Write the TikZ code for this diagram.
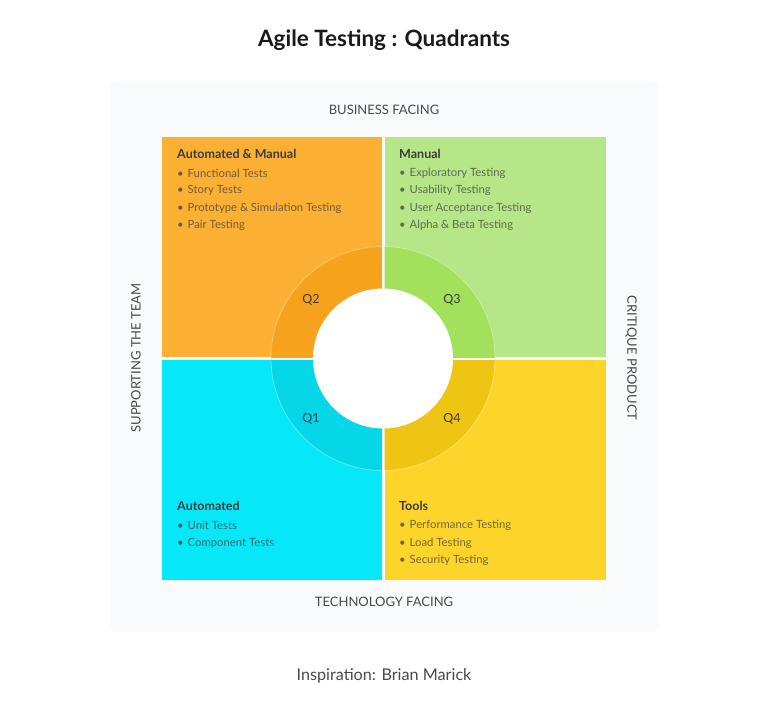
\documentclass[tikz,border=0pt]{standalone}
\usepackage{fontspec}
\setmainfont{Lato}
\definecolor{qorange}{HTML}{FBB034}
\definecolor{rorange}{HTML}{F6A21C}
\definecolor{qgreen}{HTML}{B6E688}
\definecolor{rgreen}{HTML}{A3E05C}
\definecolor{qcyan}{HTML}{06E8F8}
\definecolor{rcyan}{HTML}{05D6E8}
\definecolor{qyellow}{HTML}{FDD52A}
\definecolor{ryellow}{HTML}{EFC514}
\definecolor{panel}{HTML}{F9FAFC}
\definecolor{headc}{HTML}{3C3C3C}
\definecolor{axisc}{HTML}{4A4A4A}
\tikzset{
  qhead/.style={anchor=west, font=\bfseries\fontsize{12.5}{14}\selectfont, text=headc, inner sep=0pt},
  qitem/.style={anchor=west, font=\fontsize{11.3}{13}\selectfont, text=headc, text opacity=0.72, inner sep=0pt},
  qlabel/.style={font=\fontsize{12.5}{14}\selectfont, text=headc, inner sep=0pt},
  axislabel/.style={font=\fontsize{13}{15}\selectfont, text=axisc, inner sep=0pt},
}
\newcommand{\bitem}{\textbullet\hspace{4pt}}
\begin{document}
\begin{tikzpicture}[x=1pt,y=-1pt]
\useasboundingbox (0,0) rectangle (768,713);
\fill[white] (0,0) rectangle (768,713);
\fill[panel, rounded corners=6pt] (110,82) rectangle (658,632);
% quadrants
\fill[qorange] (162,137) rectangle (381.5,357);
\fill[qgreen] (384.5,137) rectangle (606,357);
\fill[qcyan] (162,360) rectangle (381.5,580);
\fill[qyellow] (384.5,360) rectangle (606,580);
% ring segments
\begin{scope}\clip (162,137) rectangle (381.5,357); \fill[rorange] (383,358.5) circle[radius=112]; \end{scope}
\begin{scope}\clip (384.5,137) rectangle (606,357); \fill[rgreen] (383,358.5) circle[radius=112]; \end{scope}
\begin{scope}\clip (162,360) rectangle (381.5,580); \fill[rcyan] (383,358.5) circle[radius=112]; \end{scope}
\begin{scope}\clip (384.5,360) rectangle (606,580); \fill[ryellow] (383,358.5) circle[radius=112]; \end{scope}
\draw[white, opacity=0.35, line width=0.8pt] (383,358.5) circle[radius=112];
\fill[white] (383,358.5) circle[radius=70];
% title
\node[font=\bfseries\fontsize{22.5}{26}\selectfont, text=black!90] (title) at (384,40) {Agile Testing : Quadrants};
% axis labels
\node[axislabel] (business) at (384,110) {BUSINESS FACING};
\node[axislabel] (technology) at (384,602) {TECHNOLOGY FACING};
\node[axislabel, rotate=90] (supporting) at (136,358) {SUPPORTING THE TEAM};
\node[axislabel, rotate=-90] (critique) at (631,358) {CRITIQUE PRODUCT};
% Q2
\node[qhead] (h2) at (177,153.5) {Automated \& Manual};
\node[qitem] (i21) at (177,173) {\bitem Functional Tests};
\node[qitem] (i22) at (177,190.5) {\bitem Story Tests};
\node[qitem] (i23) at (177,208) {\bitem Prototype \& Simulation Testing};
\node[qitem] (i24) at (177,225.5) {\bitem Pair Testing};
% Q3
\node[qhead] (h3) at (399,153.5) {Manual};
\node[qitem] (i31) at (399,173) {\bitem Exploratory Testing};
\node[qitem] (i32) at (399,190.5) {\bitem Usability Testing};
\node[qitem] (i33) at (399,208) {\bitem User Acceptance Testing};
\node[qitem] (i34) at (399,225.5) {\bitem Alpha \& Beta Testing};
% Q1
\node[qhead] (h1) at (177,505.5) {Automated};
\node[qitem] (i11) at (177,525.5) {\bitem Unit Tests};
\node[qitem] (i12) at (177,543) {\bitem Component Tests};
% Q4
\node[qhead] (h4) at (399,505.5) {Tools};
\node[qitem] (i41) at (399,525.5) {\bitem Performance Testing};
\node[qitem] (i42) at (399,543) {\bitem Load Testing};
\node[qitem] (i43) at (399,560.5) {\bitem Security Testing};
% quadrant labels
\node[qlabel] (q2) at (311,300) {Q2};
\node[qlabel] (q3) at (452,300) {Q3};
\node[qlabel] (q1) at (311,419) {Q1};
\node[qlabel] (q4) at (452,419) {Q4};
% credit
\node[font=\fontsize{16.2}{19}\selectfont, text=axisc] (credit) at (384,676) {Inspiration: Brian Marick};
\end{tikzpicture}
\end{document}
